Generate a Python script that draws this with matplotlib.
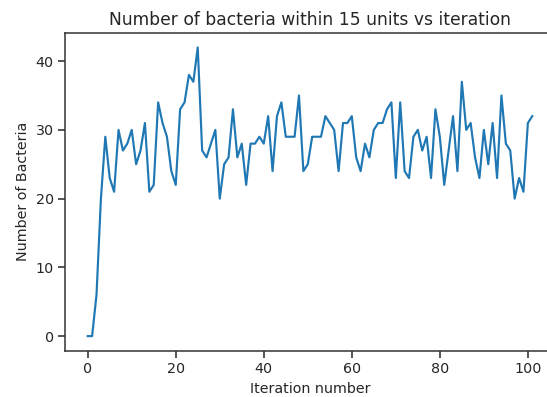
import matplotlib
matplotlib.use("Agg")
import matplotlib.pyplot as plt

iterations = list(range(102))
bacteria = [0, 0, 6, 20, 29, 23, 21, 30, 27, 28,
            30, 25, 27, 31, 21, 22, 34, 31, 29, 24,
            22, 33, 34, 38, 37, 42, 27, 26, 28, 30,
            20, 25, 26, 33, 26, 28, 22, 28, 28, 29,
            28, 32, 24, 32, 34, 29, 29, 29, 35, 24,
            25, 29, 29, 29, 32, 31, 30, 24, 31, 31,
            32, 26, 24, 28, 26, 30, 31, 31, 33, 34,
            23, 34, 24, 23, 29, 30, 27, 29, 23, 33,
            29, 22, 27, 32, 24, 37, 30, 31, 26, 23,
            30, 25, 31, 23, 35, 28, 27, 20, 23, 21,
            31, 32]
x_ticks = [0, 20, 40, 60, 80, 100]
y_ticks = [0, 10, 20, 30, 40]

plt.rcParams['font.family'] = ['DejaVu Sans']
plt.rcParams['font.size'] = 10.3

fig = plt.figure(figsize=(5.47, 3.97), dpi=100)
ax = fig.add_axes([0.1197, 0.117, 0.894, 0.8]) 
ax.plot(iterations, bacteria, color='#1f77b4', linewidth=1.55)
ax.set_xticks(x_ticks)
ax.set_yticks(y_ticks)
ax.set_xlim(-5.05, 106.05)
ax.set_ylim(-2.1, 44.1)
ax.set_title("Number of bacteria within 15 units vs iteration", color='#262626')
ax.set_xlabel("Iteration number", color='#262626')
ax.set_ylabel("Number of Bacteria", color='#262626')
ax.tick_params(colors='#262626', length=5, width=1.1)
for s in ax.spines.values():
    s.set_linewidth(1.1)
    s.set_color('#333333')

fig.savefig("out.png", dpi=100)
